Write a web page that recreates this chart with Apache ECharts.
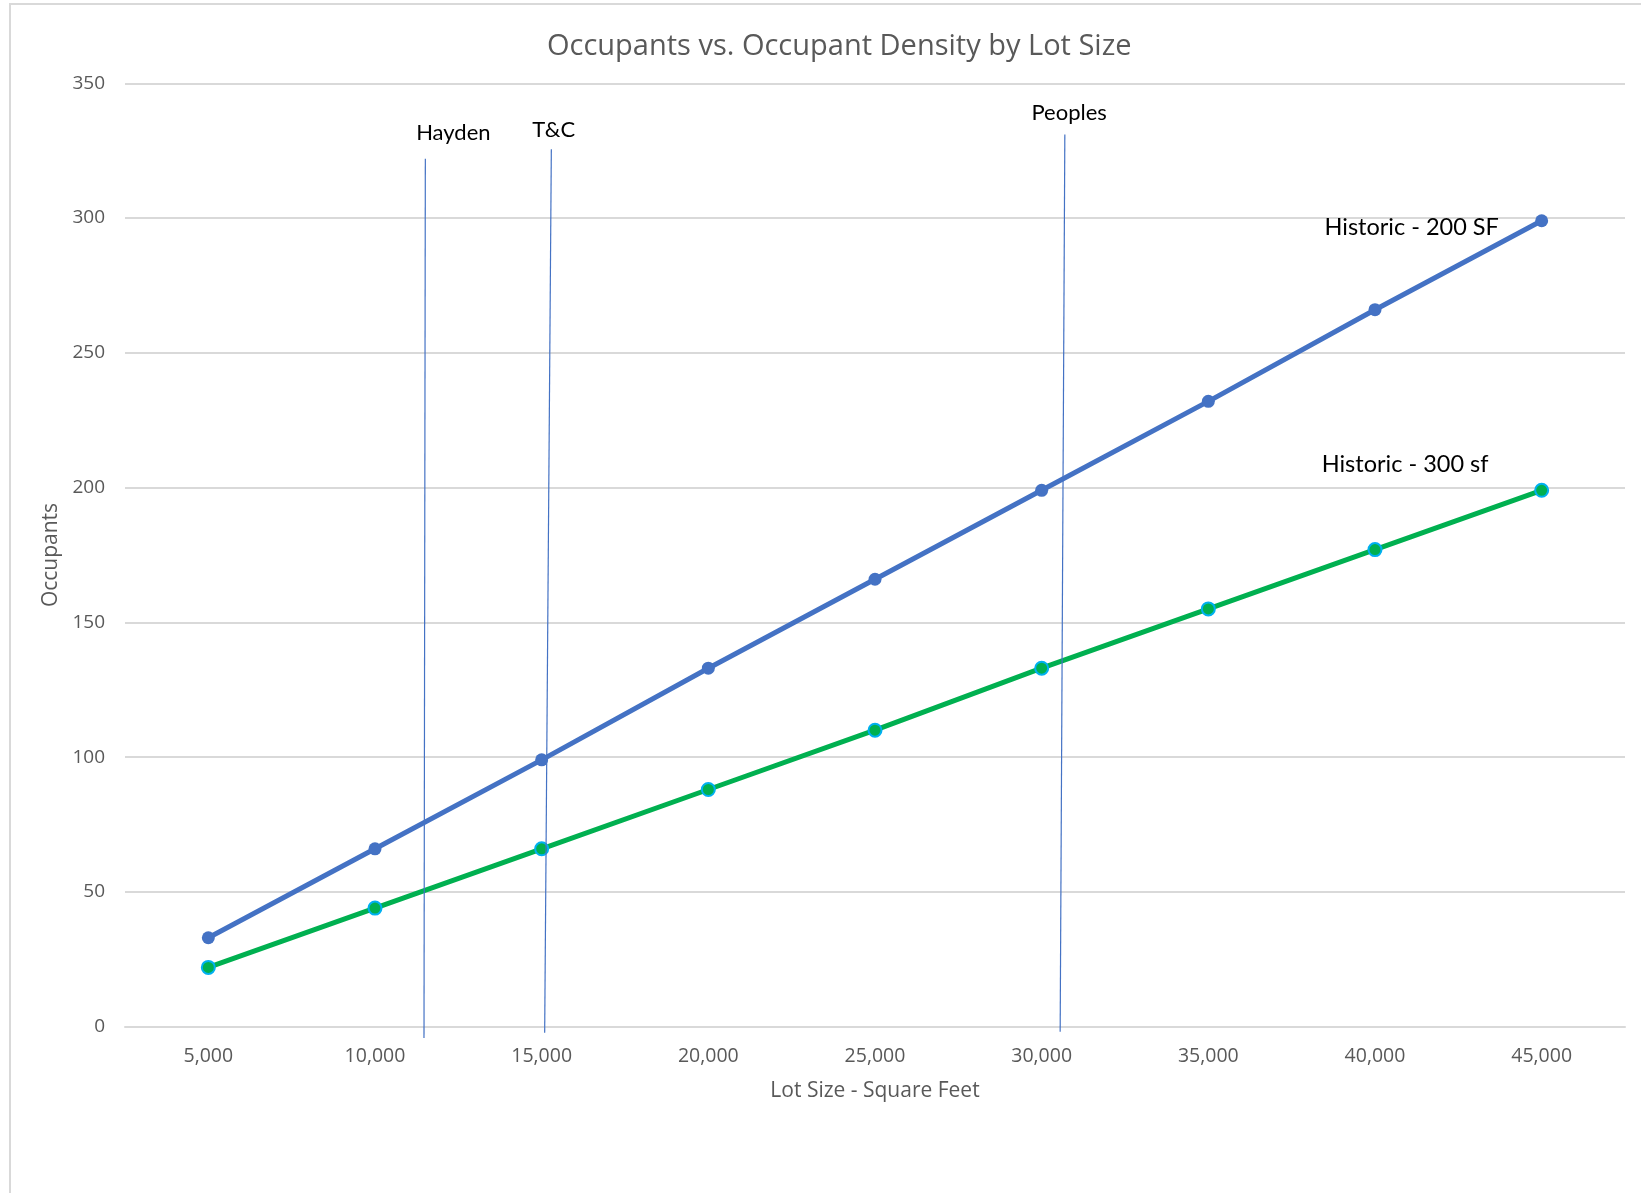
<!DOCTYPE html>
<html>
<head>
<meta charset="utf-8">
<title>Occupants vs. Occupant Density by Lot Size</title>
<script src="https://cdn.jsdelivr.net/npm/echarts@6/dist/echarts.min.js"></script>
<style>
  html, body { margin: 0; padding: 0; background: #ffffff; }
  #chart { width: 1641px; height: 1193px; }
</style>
</head>
<body>
<div id="chart"></div>
<script>
// Lot sizes (square feet) on the category axis
const lotSizes = [5000, 10000, 15000, 20000, 25000, 30000, 35000, 40000, 45000];

// Occupant counts per lot size
const historic200 = [33, 66, 99, 133, 166, 199, 232, 266, 299];
const historic300 = [22, 44, 66, 88, 110, 133, 155, 177, 199];

// Series names shown beside the line ends
const seriesNames = ['Historic - 200 SF', 'Historic - 300 sf'];

// Reference properties marked as vertical lines (lot size at top / bottom end, occupant extent)
const siteNames = ['Hayden', 'T&C', 'Peoples'];
const siteLotTop = [11510, 15290, 30695];
const siteLotBottom = [11470, 15090, 30555];
const siteOccTop = [322, 325.5, 331];
const siteOccBottom = [-4.2, -2.2, -1.9];

// Y axis ticks
const yMin = 0, yMax = 350, yStep = 50;

const labelFont = 'Lato, "Open Sans", sans-serif';
const axisFont = '"Open Sans", sans-serif';
const blue = '#4472C4';
const green = '#00B050';

// label offsets relative to the top end of each site line
const siteLabelOffsets = [[28, -25.6], [2.4, -19.3], [4.3, -21.7]];

const chart = echarts.init(document.getElementById('chart'), null, { renderer: 'canvas' });

function withEndLabel(values, text, offset) {
  return values.map((v, i) => i === values.length - 1
    ? { value: v, label: { show: true, position: 'inside', offset: offset, formatter: text,
        color: '#000000', fontFamily: labelFont, fontSize: 23.5 } }
    : v);
}

const siteSeries = siteNames.map((name, i) => ({
  name: name,
  type: 'line',
  xAxisIndex: 1,
  yAxisIndex: 0,
  clip: false,
  silent: true,
  symbol: 'circle',
  symbolSize: 1,
  itemStyle: { color: 'rgba(0,0,0,0)' },
  lineStyle: { color: blue, width: 1.2 },
  z: 5,
  data: [
    { value: [siteLotTop[i], siteOccTop[i]],
      label: { show: true, position: 'inside', offset: siteLabelOffsets[i], formatter: name,
        color: '#000000', fontFamily: labelFont, fontSize: 22 } },
    { value: [siteLotBottom[i], siteOccBottom[i]] }
  ]
}));

chart.setOption({
  animation: false,
  backgroundColor: '#ffffff',
  title: {
    text: 'Occupants vs. Occupant Density by Lot Size',
    left: 542,
    top: 27,
    textStyle: { color: '#595959', fontFamily: axisFont, fontSize: 29, fontWeight: 'normal' }
  },
  graphic: [{
    type: 'rect',
    shape: { x: 10, y: 4, width: 1700, height: 1300 },
    style: { fill: 'none', stroke: '#d9d9d9', lineWidth: 2 },
    silent: true,
    z: -1
  }],
  grid: { left: 125, right: 16, top: 83.3, bottom: 166.3, containLabel: false },
  xAxis: [{
    type: 'category',
    data: lotSizes,
    boundaryGap: true,
    name: 'Lot Size - Square Feet',
    nameLocation: 'middle',
    nameGap: 54,
    nameTextStyle: { color: '#595959', fontFamily: axisFont, fontSize: 21 },
    axisLine: { show: true, lineStyle: { color: '#d9d9d9', width: 2 } },
    axisTick: { show: false },
    axisLabel: {
      color: '#595959', fontFamily: axisFont, fontSize: 19.5, margin: 20,
      formatter: v => Number(v).toLocaleString('en-US')
    },
    splitLine: { show: false }
  }, {
    type: 'value',
    min: 2500,
    max: 47500,
    show: false
  }],
  yAxis: {
    type: 'value',
    min: yMin,
    max: yMax,
    interval: yStep,
    name: 'Occupants',
    nameLocation: 'middle',
    nameGap: 62,
    nameTextStyle: { color: '#595959', fontFamily: axisFont, fontSize: 21 },
    axisLine: { show: false },
    axisTick: { show: false },
    axisLabel: { color: '#595959', fontFamily: axisFont, fontSize: 19, margin: 20 },
    splitLine: { lineStyle: { color: '#d9d9d9', width: 2 } }
  },
  series: [{
    name: seriesNames[0],
    type: 'line',
    symbol: 'circle',
    symbolSize: 13,
    lineStyle: { color: blue, width: 5 },
    itemStyle: { color: blue },
    z: 3,
    data: withEndLabel(historic200, seriesNames[0], [-130, 6.3])
  }, {
    name: seriesNames[1],
    type: 'line',
    symbol: 'circle',
    symbolSize: 13,
    lineStyle: { color: green, width: 5 },
    itemStyle: { color: green, borderColor: '#00B0F0', borderWidth: 2 },
    z: 3,
    data: withEndLabel(historic300, seriesNames[1], [-136.6, -26.3])
  }].concat(siteSeries)
});
</script>
</body>
</html>
